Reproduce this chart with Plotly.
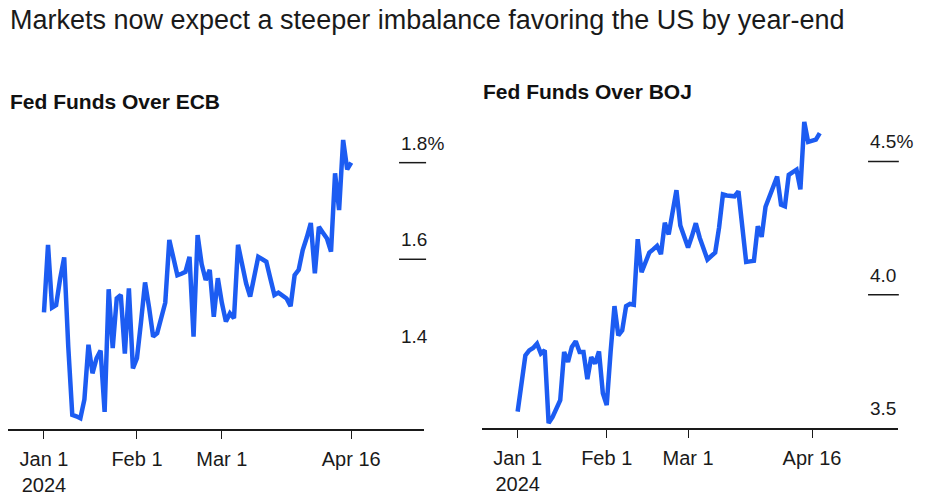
import pandas as pd
import plotly.graph_objects as go

# Spread of Fed Funds over ECB, business days Jan 1 - Apr 16 2024 (pct)
ecb_dates = pd.bdate_range("2024-01-01", "2024-04-16")
ecb_spread = [
    1.49, 1.63, 1.50, 1.505, 1.56, 1.604, 1.42, 1.278, 1.275, 1.271,
    1.31, 1.423, 1.364, 1.395, 1.411, 1.284, 1.538, 1.416, 1.519, 1.526,
    1.405, 1.54, 1.374, 1.395, 1.47, 1.552, 1.50, 1.44, 1.447, 1.48,
    1.51, 1.64, 1.605, 1.567, 1.57, 1.574, 1.605, 1.44, 1.65, 1.59,
    1.557, 1.578, 1.481, 1.561, 1.51, 1.471, 1.488, 1.478, 1.63, 1.59,
    1.55, 1.523, 1.565, 1.605, 1.60, 1.595, 1.56, 1.526, 1.531, 1.525,
    1.519, 1.503, 1.567, 1.578, 1.619, 1.645, 1.675, 1.571, 1.667, 1.655,
    1.643, 1.616, 1.778, 1.702, 1.847, 1.786, 1.80,
]

# Spread of Fed Funds over BOJ, business days Jan 1 - Apr 18 2024 (pct)
boj_dates = pd.bdate_range("2024-01-01", "2024-04-18")
boj_spread = [
    3.561, 3.67, 3.772, 3.791, 3.80, 3.816, 3.779, 3.791, 3.518, 3.54,
    3.574, 3.604, 3.785, 3.748, 3.804, 3.825, 3.785, 3.785, 3.683, 3.766,
    3.741, 3.787, 3.63, 3.586, 3.785, 3.957, 3.847, 3.866, 3.957, 3.965,
    3.962, 4.208, 4.084, 4.12, 4.158, 4.17, 4.183, 4.152, 4.27, 4.226,
    4.31, 4.392, 4.26, 4.22, 4.177, 4.22, 4.268, 4.214, 4.17, 4.132,
    4.145, 4.158, 4.251, 4.376, 4.372, 4.37, 4.369, 4.388, 4.24, 4.123,
    4.125, 4.127, 4.257, 4.217, 4.33, 4.37, 4.41, 4.443, 4.338, 4.332,
    4.45, 4.46, 4.469, 4.395, 4.648, 4.573, 4.578, 4.582, 4.606,
]

x_tickvals = ["2024-01-01", "2024-02-01", "2024-03-01", "2024-04-16"]
x_ticktext = ["Jan 1<br>2024", "Feb 1", "Mar 1", "Apr 16"]

ecb_ticks = [1.4, 1.6, 1.8]
ecb_ticktext = ["1.4", "1.6", "1.8%"]
boj_ticks = [3.5, 4.0, 4.5]
boj_ticktext = ["3.5", "4.0", "4.5%"]

BLUE = "#1c5cf2"
INK = "#1a1a1a"
FONT = "Liberation Sans, Arial, sans-serif"

fig = go.Figure()
fig.add_trace(go.Scatter(x=ecb_dates, y=ecb_spread, mode="lines",
                         line=dict(color=BLUE, width=4.5), xaxis="x", yaxis="y",
                         hoverinfo="x+y"))
fig.add_trace(go.Scatter(x=boj_dates, y=boj_spread, mode="lines",
                         line=dict(color=BLUE, width=4.5), xaxis="x2", yaxis="y2",
                         hoverinfo="x+y"))

xcommon = dict(
    type="date", rangebreaks=[dict(bounds=["sat", "mon"])],
    showgrid=False, zeroline=False, showline=True, linecolor=INK, linewidth=1.5,
    ticks="outside", ticklen=8, tickwidth=1.2, tickcolor=INK,
    tickvals=x_tickvals, ticktext=x_ticktext, ticklabelstandoff=3,
    tickfont=dict(family=FONT, size=20, color=INK), fixedrange=True,
)
ycommon = dict(showgrid=False, zeroline=False, showline=False,
               showticklabels=False, ticks="", fixedrange=True)

fig.update_layout(
    width=938, height=504, margin=dict(l=0, r=0, t=0, b=0),
    paper_bgcolor="white", plot_bgcolor="white", showlegend=False,
    xaxis=dict(xcommon, domain=[8 / 938, 424 / 938], anchor="y",
               range=["2023-12-19 02:24", "2024-05-10"]),
    yaxis=dict(ycommon, domain=[1 - 429 / 504, 1 - 110 / 504], anchor="x",
               range=[1.2487, 1.909]),
    xaxis2=dict(xcommon, domain=[482 / 938, 898 / 938], anchor="y2",
                range=["2023-12-18 19:12", "2024-05-16 04:48"]),
    yaxis2=dict(ycommon, domain=[1 - 428.3 / 504, 1 - 110 / 504], anchor="x2",
                range=[3.4985, 4.693]),
)

# right-hand value labels sitting on short underline ticks
for xref, yref, ticks, texts, x0, x1 in [
    ("x domain", "y", ecb_ticks, ecb_ticktext, 0.94, 1.005),
    ("x2 domain", "y2", boj_ticks, boj_ticktext, 0.928, 1.002),
]:
    for i, (v, t) in enumerate(zip(ticks, texts)):
        fig.add_annotation(x=x0, y=v, xref=xref, yref=yref, text=t,
                           showarrow=False, xanchor="left", yanchor="bottom",
                           yshift=7, font=dict(family=FONT, size=19, color=INK))
        if i > 0:
            fig.add_shape(type="line", xref=xref, yref=yref, x0=x0, x1=x1,
                          y0=v, y1=v, line=dict(color=INK, width=1.5))

fig.add_annotation(x=8 / 938, y=1 - 3 / 504, xref="paper", yref="paper",
                   xanchor="left", yanchor="top", showarrow=False,
                   text="Markets now expect a steeper imbalance favoring the US by year-end",
                   font=dict(family=FONT, size=27, color=INK))
fig.add_annotation(x=8 / 938, y=1 - 88 / 504, xref="paper", yref="paper",
                   xanchor="left", yanchor="top", showarrow=False,
                   text="<b>Fed Funds Over ECB</b>",
                   font=dict(family=FONT, size=21, color="#111111"))
fig.add_annotation(x=481 / 938, y=1 - 78 / 504, xref="paper", yref="paper",
                   xanchor="left", yanchor="top", showarrow=False,
                   text="<b>Fed Funds Over BOJ</b>",
                   font=dict(family=FONT, size=21, color="#111111"))

# drop the default 8px page margin so the figure sits at the window origin
fig.write_html("out.html", config={"displayModeBar": False},
               post_script="document.body.style.margin='0px';")
